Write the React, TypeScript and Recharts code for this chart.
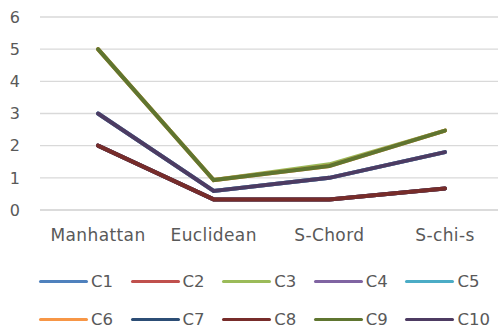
import React from 'react';
import { LineChart, Line, XAxis, YAxis, CartesianGrid, Legend } from 'recharts';

const categories = ['Manhattan', 'Euclidean', 'S-Chord', 'S-chi-s'];
const yTicks = [0, 1, 2, 3, 4, 5, 6];

// most series sit exactly underneath C8 / C9 / C10
const c1 = [2, 0.33, 0.33, 0.67];
const c2 = [2, 0.33, 0.33, 0.67];
const c3 = [5, 0.93, 1.42, 2.47];
const c4 = [3, 0.59, 1.0, 1.8];
const c5 = [3, 0.59, 1.0, 1.8];
const c6 = [5, 0.93, 1.37, 2.47];
const c7 = [2, 0.33, 0.33, 0.67];
const c8 = [2, 0.33, 0.33, 0.67];
const c9 = [5, 0.93, 1.37, 2.47];
const c10 = [3, 0.59, 1.0, 1.8];

const seriesNames = ['C1', 'C2', 'C3', 'C4', 'C5', 'C6', 'C7', 'C8', 'C9', 'C10'];
const seriesValues = [c1, c2, c3, c4, c5, c6, c7, c8, c9, c10];
const COLORS = ['#4F81BD', '#C0504D', '#9BBB59', '#8064A2', '#4BACC6', '#F79646', '#2C4D75', '#772C2A', '#5F7530', '#4D3B62'];

const data = categories.map((name, i) => {
  const row: Record<string, number | string> = { name };
  seriesNames.forEach((s, j) => { row[s] = seriesValues[j][i]; });
  return row;
});

const FONT = '"DejaVu Sans", sans-serif';
const TEXT = '#595959';

const renderLegend = () => (
  <div style={{ height: 83, paddingTop: 12, boxSizing: 'border-box', paddingLeft: 39, display: 'flex', flexWrap: 'wrap', width: 498 }}>
    {seriesNames.map((s, i) => (
      <div key={s} style={{ width: 91.6, height: 38, display: 'flex', alignItems: 'center' }}>
        <span style={{ display: 'inline-block', width: 49, height: 3, borderRadius: 2, background: COLORS[i] }} />
        <span style={{ marginLeft: 3, fontSize: 16.5, color: TEXT, fontFamily: FONT }}>{s}</span>
      </div>
    ))}
  </div>
);

export default function App() {
  return (
    <div style={{ position: 'absolute', left: 0, top: 0, width: 498, height: 333, overflow: 'hidden', background: '#fff', fontFamily: FONT }}>
      <LineChart width={510} height={333} data={data} margin={{ top: 17, right: 7, bottom: 0, left: 0 }}>
        <CartesianGrid vertical={false} stroke="#D9D9D9" strokeWidth={1.3} />
        <XAxis
          dataKey="name"
          axisLine={{ stroke: '#D9D9D9', strokeWidth: 1.3 }}
          tickLine={false}
          tickSize={0}
          tickMargin={19}
          height={40}
          interval={0}
          padding={{ left: 58, right: 58 }}
          tick={{ fill: TEXT, fontSize: 17, fontFamily: FONT, letterSpacing: 0.4 }}
        />
        <YAxis
          domain={[0, 6]}
          ticks={yTicks}
          axisLine={false}
          tickLine={false}
          tickSize={0}
          tickMargin={20}
          width={40}
          tick={{ fill: TEXT, fontSize: 16, fontFamily: FONT }}
        />
        <Legend verticalAlign="bottom" content={renderLegend} />
        {seriesNames.map((s, i) => (
          <Line
            key={s}
            dataKey={s}
            type="linear"
            stroke={COLORS[i]}
            strokeWidth={4}
            strokeLinecap="round"
            dot={false}
            isAnimationActive={false}
          />
        ))}
      </LineChart>
    </div>
  );
}
